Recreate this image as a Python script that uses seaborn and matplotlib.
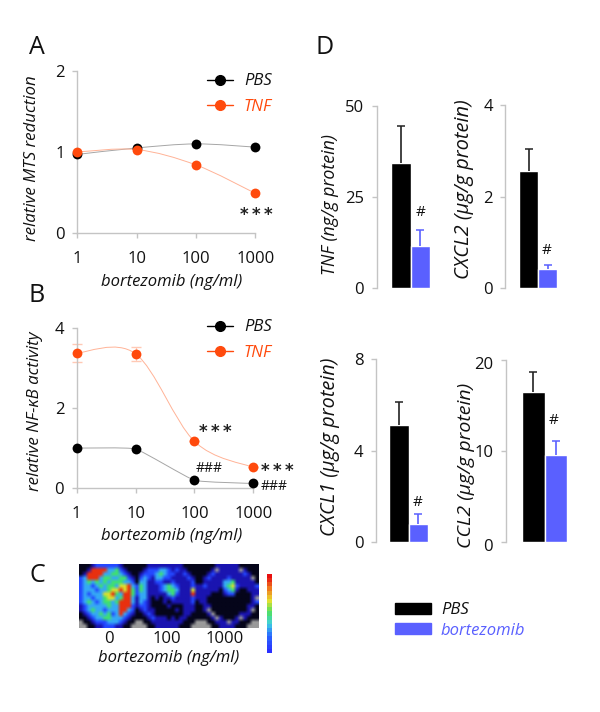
import matplotlib
matplotlib.use("Agg")
import matplotlib.pyplot as plt
import numpy as np
import seaborn as sns
from matplotlib.colors import ListedColormap, LinearSegmentedColormap
from matplotlib.lines import Line2D
from matplotlib.patches import Patch, PathPatch
from matplotlib.path import Path
from matplotlib.transforms import ScaledTranslation

W, H = 600, 712
ORANGE = "#FF4A0D"
BLUE = "#5A60FF"
AXIS_GRAY = "#C4C4C4"
FONT = ["Open Sans", "DejaVu Sans"]

# --- data ---
doses = [1, 10, 100, 1000]
dose_labels = ["1", "10", "100", "1000"]

mts_pbs = [0.97, 1.05, 1.10, 1.06]
mts_tnf = [1.00, 1.03, 0.84, 0.49]

nfkb_pbs = [1.00, 0.98, 0.20, 0.12]
nfkb_tnf = [3.37, 3.35, 1.17, 0.52]
nfkb_tnf_err = [0.22, 0.18, 0.0, 0.0]

groups = ["PBS", "bortezomib"]
tnf_vals, tnf_err = [34.5, 11.6], [10.1, 4.3]
cxcl2_vals, cxcl2_err = [2.55, 0.42], [0.50, 0.09]
cxcl1_vals, cxcl1_err = [5.14, 0.80], [0.98, 0.44]
ccl2_vals, ccl2_err = [16.56, 9.6], [2.12, 1.5]

image_labels = ["0", "100", "1000"]

# plate image, coarse: 0 black, 1 navy, 2 blue, 3 sky, 4 green, 5 yellow, 6 red, 7 grey
well_0 = ["000122222210000", "001666633421000", "016666334432100", "236663443344210",
          "234343434443320", "233234344355632", "233323345565642", "232333556436642",
          "233233455346631", "234323443466631", "123333343366621", "123433233366320",
          "012334342363210", "001233443332100", "700122233321007", "770011222110077"]
well_100 = ["001111111110000", "012223321211000", "122234322112100", "232133221111210",
            "331122112111120", "431112343211121", "431112344311151", "331111134211161",
            "331010112111121", "321000101111120", "221000010001110", "121100000101110",
            "012100000001100", "001211101011000", "700111111110007", "770011111100077"]
well_1000 = ["000011111100000", "000171111171000", "001211111112100", "012111121111170",
             "011111334111110", "121111345211112", "111110234100111", "111000122000011",
             "110000000000017", "110000000000012", "011000000000110", "017000000000170",
             "001700000011100", "000171000171000", "770011171100077", "777001111000777"]
plate_colors = ["#05051a", "#1a14b0", "#2448ff", "#35a8f5", "#3fe070", "#d8e030", "#e8300f", "#9a9a9a"]
scale_levels = [1.0, 0.96, 0.9, 0.84, 0.78, 0.72, 0.66, 0.6, 0.54, 0.48,
                0.42, 0.36, 0.3, 0.24, 0.18, 0.12, 0.08, 0.04, 0.0]


def axes_at(fig, left, top, right, bottom):
    """Make axes from pixel edges measured on the reference."""
    return fig.add_axes([left / W, 1 - bottom / H, (right - left) / W, (bottom - top) / H])


def put(fig, x, y, s, **kw):
    kw.setdefault("ha", "center")
    kw.setdefault("va", "center")
    kw.setdefault("family", FONT)
    return fig.text(x / W, 1 - y / H, s, **kw)


def label_at(fig, axis, x, y, s, size=12):
    axis.set_label_text(s, fontstyle="italic", fontsize=size, family=FONT, color="#111111")
    axis.label.set_verticalalignment("center")
    axis.set_label_coords(x / W, 1 - y / H, transform=fig.transFigure)


def smooth_curve(ax, xs, ys, color, tension=1.0):
    # same kind of smoothed connector the spreadsheet draws between the points
    pts = np.column_stack([xs, ys])
    verts, codes = [pts[0]], [Path.MOVETO]
    for i in range(len(pts) - 1):
        before = pts[max(i - 1, 0)]
        after = pts[min(i + 2, len(pts) - 1)]
        verts += [pts[i] + tension * (pts[i + 1] - before) / 6,
                  pts[i + 1] - tension * (after - pts[i]) / 6, pts[i + 1]]
        codes += [Path.CURVE4] * 3
    ax.add_patch(PathPatch(Path(verts, codes), fill=False, edgecolor=color, lw=0.7, zorder=2))


def style_axes(ax, pad_x=9.5):
    sns.despine(ax=ax)
    for side in ["left", "bottom"]:
        ax.spines[side].set_color(AXIS_GRAY)
        ax.spines[side].set_linewidth(1.0)
    ax.tick_params(axis="y", length=3.5, width=1.0, color=AXIS_GRAY, pad=5.5, labelsize=12, left=True)
    ax.tick_params(axis="x", length=3.5, width=1.0, color=AXIS_GRAY, pad=pad_x, labelsize=12, bottom=True)
    for t in ax.get_xticklabels() + ax.get_yticklabels():
        t.set_family(FONT)
        t.set_color("#111111")


def line_panel(fig, box, pbs, tnf, y_top, ticks, legend_y, pbs_tension=1.0):
    ax = axes_at(fig, *box)
    xs = np.log10(doses)
    smooth_curve(ax, xs, pbs, "#A6A6A6", pbs_tension)
    smooth_curve(ax, xs, tnf, "#FFB397")
    sns.scatterplot(x=xs, y=pbs, ax=ax, color="black", s=50, linewidth=0, clip_on=False, zorder=3)
    sns.scatterplot(x=xs, y=tnf, ax=ax, color=ORANGE, s=50, linewidth=0, clip_on=False, zorder=4)
    ax.set_xlim(0, 3)
    ax.set_ylim(0, y_top)
    ax.set_xticks(xs)
    ax.set_xticklabels(dose_labels)
    ax.set_yticks(ticks)
    style_axes(ax)
    handles = [Line2D([], [], color="black", lw=1, marker="o", ms=7),
               Line2D([], [], color=ORANGE, lw=1, marker="o", ms=7)]
    ax.legend(handles, ["PBS", "TNF"], loc="center left", bbox_to_anchor=(207 / W, 1 - legend_y / H),
              bbox_transform=fig.transFigure, frameon=False, labelcolor=["#111111", ORANGE],
              prop={"family": FONT, "style": "italic", "size": 12}, handlelength=1.56,
              handletextpad=0.65, borderpad=0, borderaxespad=0, labelspacing=0.55)
    return ax


def bar_panel(fig, axis_x, top, bottom, bar_left, bar_right, vals, errs, y_top, ticks):
    ax = axes_at(fig, axis_x, top, bar_right, bottom)
    sns.barplot(x=groups, y=vals, hue=groups, palette=["black", BLUE], width=1.0, legend=False,
                ax=ax, saturation=1)
    unit = (bar_right - bar_left) / 2
    ax.set_xlim(-0.5 - (bar_left - axis_x) / unit, 1.5)
    ax.set_ylim(0, y_top)
    for i, c in enumerate(["#222222", BLUE]):
        eb = ax.errorbar(i, vals[i], yerr=[[0], [errs[i]]], color=c, lw=1.2, capsize=3.2, capthick=1.1, zorder=1)
        eb[1][0].set_visible(False)  # no cap on the bar top itself
    ax.set_yticks(ticks)
    ax.set_xticks([])
    ax.set_xlabel("")
    style_axes(ax)
    ax.spines["bottom"].set_visible(False)
    return ax


sns.set_theme(style="white")
plt.rcParams["font.family"] = FONT

fig = plt.figure(figsize=(W / 100, H / 100), dpi=100)

# --- panel A ---
ax_a = line_panel(fig, (77.3, 71, 255.3, 233), mts_pbs, mts_tnf, 2, [0, 1, 2], 94)
label_at(fig, ax_a.yaxis, 32, 158, "relative MTS reduction", 12.2)
label_at(fig, ax_a.xaxis, 172, 282, "bortezomib (ng/ml)")

# --- panel B ---
ax_b = line_panel(fig, (76.7, 327.7, 253.3, 488.3), nfkb_pbs, nfkb_tnf, 4, [0, 2, 4], 340, pbs_tension=0.35)
ax_b.errorbar(np.log10(doses), nfkb_tnf, yerr=nfkb_tnf_err, fmt="none", ecolor="#FFC9B5", lw=0.8,
              capsize=3.5, clip_on=False, zorder=1)
label_at(fig, ax_b.yaxis, 35, 411, "relative NF-\u03baB activity", 12.2)
label_at(fig, ax_b.xaxis, 172, 536, "bortezomib (ng/ml)")

# --- panel C ---
plate_rows = [a + b + c for a, b, c in zip(well_0, well_100, well_1000)]
plate = np.array([[int(ch) for ch in row] for row in plate_rows])
ax_c = axes_at(fig, 79, 564, 259, 628)
# blurred like the photo, blending in colour so black next to grey stays neutral
ax_c.imshow(plate, cmap=ListedColormap(plate_colors), vmin=-0.5, vmax=7.5, aspect="auto",
            interpolation="bilinear", interpolation_stage="rgba", extent=(0, 45, 16, 0))
ax_c.set_xticks([7.5, 22, 36.5])
ax_c.set_xticklabels(image_labels, fontsize=12, color="#111111", family=FONT)
ax_c.set_yticks([])
ax_c.tick_params(axis="x", length=0, pad=2)
sns.despine(ax=ax_c, left=True, bottom=True)
label_at(fig, ax_c.xaxis, 169, 658, "bortezomib (ng/ml)")

ax_scale = axes_at(fig, 267, 574, 272, 653)
jet_like = LinearSegmentedColormap.from_list("plate", ["#2a30ff", "#2a70ff", "#40d0e0", "#50e060", "#e8e030", "#f08020", "#e81010"])
sns.heatmap(np.array(scale_levels).reshape(-1, 1), ax=ax_scale, cmap=jet_like, vmin=0, vmax=1, cbar=False,
            xticklabels=False, yticklabels=False)

# --- panel D ---
ax_tnf = bar_panel(fig, 376.7, 106, 288.3, 391, 430.3, tnf_vals, tnf_err, 50, [0, 25, 50])
label_at(fig, ax_tnf.yaxis, 330, 205, "TNF (ng/g protein)", 12.8)
ax_cxcl2 = bar_panel(fig, 505.3, 105, 288.3, 519.3, 557.3, cxcl2_vals, cxcl2_err, 4, [0, 2, 4])
label_at(fig, ax_cxcl2.yaxis, 464, 189, "CXCL2 (\u00b5g/g protein)", 14.4)
ax_cxcl1 = bar_panel(fig, 376, 359.3, 542.3, 389.3, 428, cxcl1_vals, cxcl1_err, 8, [0, 4, 8])
label_at(fig, ax_cxcl1.yaxis, 330, 447, "CXCL1 (\u00b5g/g protein)", 14.3)
ax_ccl2 = bar_panel(fig, 505.7, 360.3, 542.3, 521.7, 567.3, ccl2_vals, ccl2_err, 20, [0, 10, 20])
label_at(fig, ax_ccl2.yaxis, 466, 465, "CCL2 (\u00b5g/g protein)", 14)
# the 0 and 20 labels sit a little low in the reference
nudge = ScaledTranslation(0, -3 / 100, fig.dpi_scale_trans)
for i in [0, 2]:
    lab = ax_ccl2.get_yticklabels()[i]
    lab.set_transform(lab.get_transform() + nudge)

fig.legend([Patch(color="black"), Patch(color=BLUE)], groups, loc="center left",
           bbox_to_anchor=(395 / W, 1 - 620.5 / H), frameon=False, labelcolor=["#111111", BLUE],
           prop={"family": FONT, "style": "italic", "size": 12}, handlelength=2.15, handleheight=0.6,
           handletextpad=0.6, borderpad=0, borderaxespad=0, labelspacing=0.25)

# --- panel letters and significance marks ---
for letter, x, y in [("A", 37, 47), ("B", 37, 296), ("C", 37, 575), ("D", 325, 47)]:
    put(fig, x, y, letter, fontsize=18, color="#111111")

for x, y in [(256, 212), (215, 429), (277, 468)]:
    put(fig, x, y + 3, "*\u2009*\u2009*", fontsize=12, fontweight="bold", family="DejaVu Sans", color="#222222")
for x, y in [(209, 468.7), (274, 486)]:
    put(fig, x, y, "###", fontsize=10, color="#111111")
for x, y in [(421, 213), (547, 250), (418, 502), (554, 420)]:
    put(fig, x, y, "#", fontsize=11, color="#111111")

fig.savefig("out.png", dpi=100, facecolor="white")
